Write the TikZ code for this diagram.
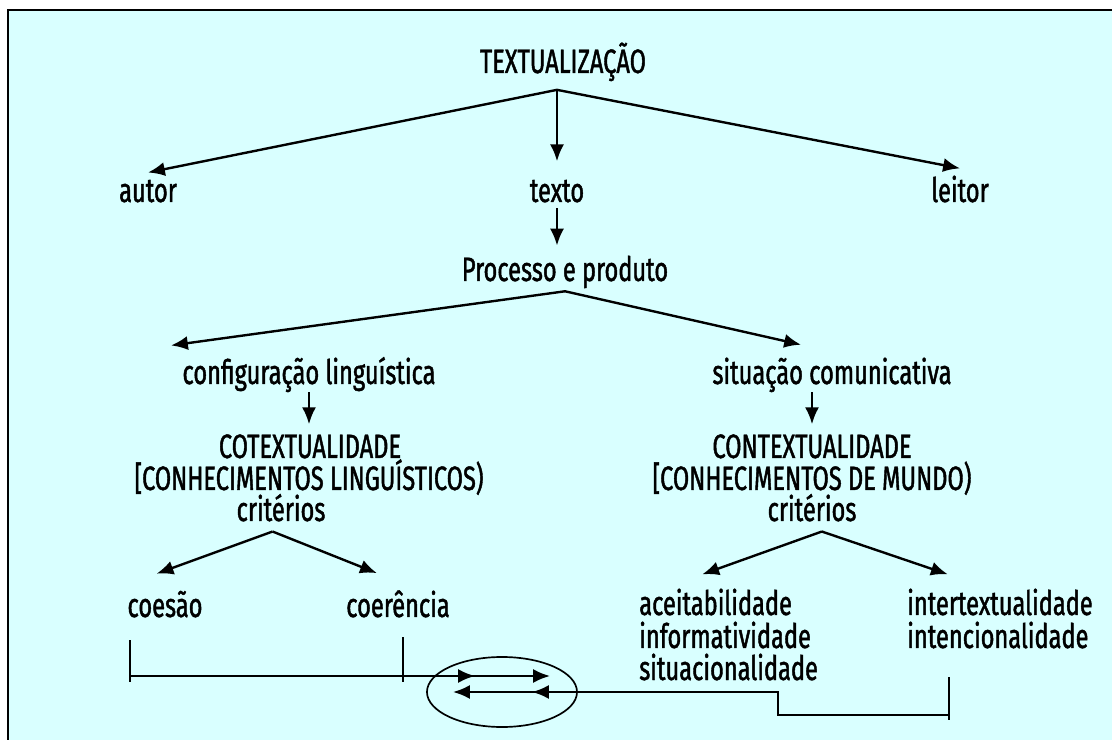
\documentclass[tikz,border=0pt]{standalone}
\usepackage{fontspec}
\setmainfont{Fira Sans}[FakeStretch=0.7, FakeBold=1.3]
\usetikzlibrary{arrows.meta}

\definecolor{fundo}{RGB}{217,255,255}
\tikzset{
	rotulo/.style={inner sep=0pt, font=\fontsize{24}{26}\selectfont},
	seta/.style={arrows={-Latex[length=12pt, width=10pt]}, line width=1.7pt},
	traco/.style={line width=1.7pt}
}

\begin{document}
\begin{tikzpicture}[x=0.025cm, y=-0.025cm]

	\useasboundingbox (0,0) rectangle (1112,740);
	\fill [white] (0,0) rectangle (1112,740);
	\draw [fill=fundo, line width=1.8pt] (8,10) rectangle (1125,755);

	\node [rotulo, anchor=base] (textualizacao) at (563,73) {TEXTUALIZAÇÃO};
	\node [rotulo, anchor=base] (autor) at (148,202) {autor};
	\node [rotulo, anchor=base] (texto) at (557,202) {texto};
	\node [rotulo, anchor=base] (leitor) at (960,202) {leitor};
	\node [rotulo, anchor=base] (processo) at (565,281) {Processo e produto};
	\node [rotulo, anchor=base] (configuracao) at (309,384) {configuração linguística};
	\node [rotulo, anchor=base] (situacao) at (832,384) {situação comunicativa};
	\node [rotulo, anchor=base] (cotext) at (310,458) {COTEXTUALIDADE};
	\node [rotulo, anchor=base] (conhecling) at (309,490) {[CONHECIMENTOS LINGUÍSTICOS)};
	\node [rotulo, anchor=base] (context) at (812,458) {CONTEXTUALIDADE};
	\node [rotulo, anchor=base] (conhecmundo) at (812,490) {[CONHECIMENTOS DE MUNDO)};
	\node [rotulo, anchor=base] (criteriosL) at (281,521) {critérios};
	\node [rotulo, anchor=base] (criteriosR) at (812,521) {critérios};
	\node [rotulo, anchor=base] (coesao) at (165,617) {coesão};
	\node [rotulo, anchor=base] (coerencia) at (398,617) {coerência};
	\node [rotulo, anchor=base west] (aceitabilidade) at (639,615) {aceitabilidade};
	\node [rotulo, anchor=base west] (informatividade) at (639,648) {informatividade};
	\node [rotulo, anchor=base west] (situacionalidade) at (639,680) {situacionalidade};
	\node [rotulo, anchor=base west] (intertextualidade) at (907,615) {intertextualidade};
	\node [rotulo, anchor=base west] (intencionalidade) at (907,648) {intencionalidade};

	\coordinate (topo) at ([yshift=-6pt]textualizacao.south -| texto.north);
	\draw [seta] (topo) -- ([yshift=5pt]autor.north);
	\draw [seta] (topo) -- ([yshift=13pt]texto.north);
	\draw [seta] (topo) -- ([yshift=5pt]leitor.north);
	\draw [seta] ([yshift=-4pt]texto.south) -- ([yshift=7pt]processo.north -| texto.south);

	\coordinate (meio) at ([yshift=-2pt]processo.south);
	\draw [seta] (meio) -- ([xshift=-8pt, yshift=8pt]configuracao.north west);
	\draw [seta] (meio) -- ([xshift=-22pt, yshift=9pt]situacao.north);
	\draw [seta] (configuracao.south) -- ([yshift=7pt]cotext.north -| configuracao.south);
	\draw [seta] (context.north |- situacao.south) -- ([yshift=7pt]context.north);

	\coordinate (bifL) at ([xshift=-6pt, yshift=-7pt]criteriosL.south);
	\draw [seta] (bifL) -- ([xshift=-6pt, yshift=12pt]coesao.north);
	\draw [seta] (bifL) -- ([xshift=-15pt, yshift=12pt]coerencia.north);
	\coordinate (bifR) at ([xshift=7pt, yshift=-7pt]criteriosR.south);
	\draw [seta] (bifR) -- ([xshift=45pt, yshift=10pt]aceitabilidade.north west);
	\draw [seta] (bifR) -- ([xshift=29pt, yshift=10pt]intertextualidade.north west);

	% ligacao entre cotextualidade e contextualidade
	\draw [traco] (130,640) -- (130,682);
	\draw [traco] (403,637) -- (403,682);
	\draw [seta] (130,676) -- (550,676);
	\draw [seta] (130,676) -- (475,676);
	\draw [traco] (949,677) -- (949,720);
	\draw [seta] (949,715) -- (778,715) -- (778,692) -- (453,692);
	\draw [seta] (778,692) -- (532,692);
	\draw [line width=1.2pt] (502,692) ellipse [x radius=1.875cm, y radius=0.875cm];

\end{tikzpicture}
\end{document}
